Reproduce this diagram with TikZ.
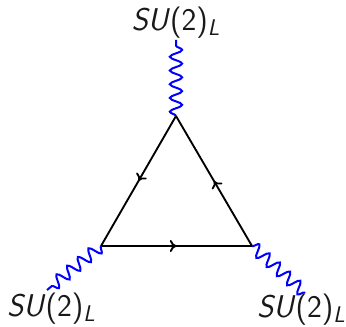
\documentclass[tikz,border=0pt]{standalone}
\usepackage{amsmath}
\usepackage{tikz}
\usetikzlibrary{positioning,arrows.meta,decorations.pathmorphing,decorations.markings}
\definecolor{gaugeblue}{RGB}{0,0,255}
\newcommand{\sulabel}{\fontsize{23.6}{24}\selectfont\sffamily\textsl{SU}(2)\raisebox{-0.15em}{\fontsize{17}{17}\selectfont\textsl{L}}}
\tikzset{
  fermion/.style={line width=1.4pt, postaction={decorate}, decoration={markings,
    mark=at position 0.5 with {\arrow{To[length=5pt,width=9pt]}}}},
  gauge/.style={gaugeblue, line width=1.5pt, decorate,
    decoration={snake, amplitude=4.6pt, segment length=10.3pt, pre length=0pt, post length=0pt}},
  grouplabel/.style={inner sep=0pt, text=black!90}
}
\begin{document}
\begin{tikzpicture}[x=0.75pt, y=-0.75pt]
  \useasboundingbox (0,0) rectangle (346,327);
  % Vertices
  \coordinate (top) at (176,116);
  \coordinate (left) at (101,246);
  \coordinate (right) at (252,246);
  % Free ends of the wavy lines
  \coordinate (topend) at (176,40);
  \coordinate (leftend) at (47,290);
  \coordinate (rightend) at (305,293);

  % Labels
  \node[grouplabel] (toplabel) at (175.5,23) {\sulabel};
  \node[grouplabel] (leftlabel) at (51,309) {\sulabel};
  \node[grouplabel] (rightlabel) at (301,310) {\sulabel};

  % Loop
  \draw[fermion] (top) -- (left);
  \draw[fermion] (left) -- (right);
  \draw[fermion] (right) -- (top);

  % Gauge lines
  \draw[gauge] (top) -- (topend);
  \draw[gauge] (left) -- (leftend);
  \draw[gauge] (right) -- (rightend);
\end{tikzpicture}
\end{document}
